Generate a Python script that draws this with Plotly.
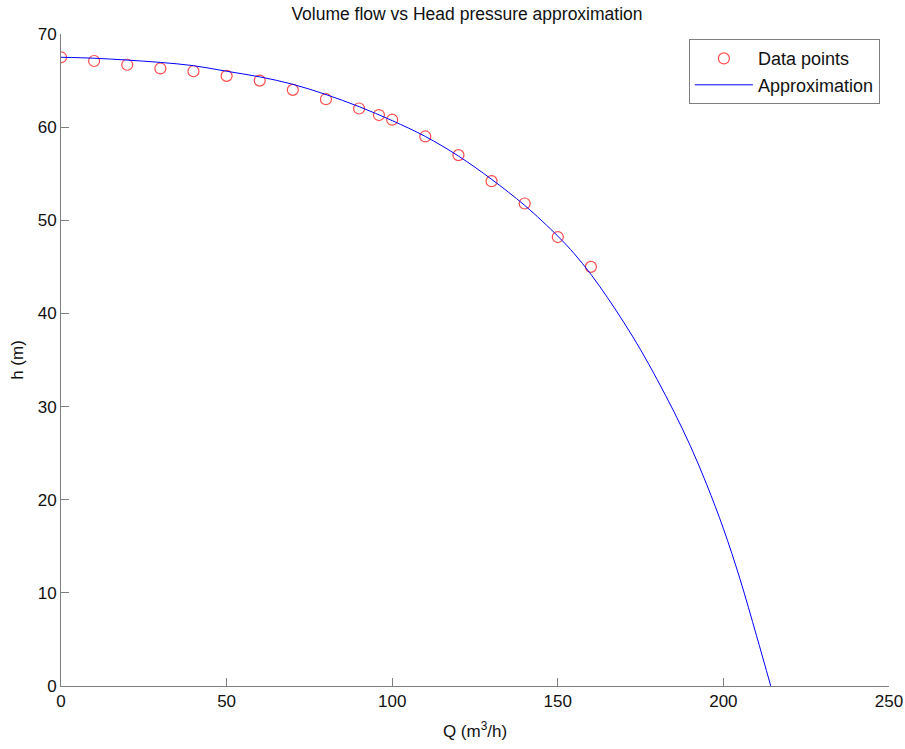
import plotly.graph_objects as go

# Measured data points
q_data = [0, 10, 20, 30, 40, 50, 60, 70, 80, 90, 96, 100, 110, 120, 130, 140, 150, 160]
h_data = [67.5, 67.1, 66.7, 66.3, 66.0, 65.5, 65.0, 64.0, 63.0, 62.0, 61.3, 60.8, 59.0, 57.0, 54.2, 51.8, 48.2, 45.0]

# Approximation curve
q_fit = [0, 10, 20, 30, 40, 50, 60, 70, 80, 90, 100, 110, 120, 130, 140, 150, 155, 160,
         165, 170, 175, 180, 185, 190, 195, 200, 205, 210, 214.3]
h_fit = [67.5, 67.4, 67.2, 66.95, 66.6, 66.0, 65.4, 64.6, 63.5, 62.2, 60.7, 59.0, 56.9, 54.4,
         51.6, 48.3, 46.4, 44.2, 41.7, 39.0, 36.1, 32.9, 29.5, 25.8, 21.6, 16.9, 11.5, 5.4, 0]

x_ticks = [0, 50, 100, 150, 200, 250]
y_ticks = [0, 10, 20, 30, 40, 50, 60, 70]

font = "Liberation Sans, Arial, sans-serif"
txt = "#111111"

fig = go.Figure()
fig.add_trace(go.Scatter(
    x=q_data, y=h_data, mode="markers", name="Data points",
    marker=dict(symbol="circle-open", size=11, color="#ff4d4d", line=dict(width=1.2)),
))
fig.add_trace(go.Scatter(
    x=q_fit, y=h_fit, mode="lines", name="Approximation",
    line=dict(color="#0000ff", width=1), line_shape="spline",
))

axis_common = dict(
    showgrid=False, zeroline=False, showline=True, linecolor="#7f7f7f", linewidth=1,
    ticks="inside", ticklen=8, tickcolor="#7f7f7f", tickwidth=1,
    tickfont=dict(family=font, size=17, color=txt),
    mirror=False, automargin=False,
)

fig.update_layout(
    width=905, height=749,
    margin=dict(l=61, r=16, t=34, b=63),
    paper_bgcolor="white", plot_bgcolor="white",
    title=dict(text="Volume flow vs Head pressure approximation", x=0.516, xanchor="center",
               y=0.989, yanchor="top", font=dict(family=font, size=17.5, color=txt)),
    xaxis=dict(range=[0, 250], tickvals=x_ticks,
               title=dict(text="Q (m<sup>3</sup>/h)", font=dict(family=font, size=17, color=txt), standoff=14),
               **axis_common),
    yaxis=dict(range=[0, 70], tickvals=y_ticks,
               title=dict(text="h (m)", font=dict(family=font, size=17, color=txt), standoff=9),
               **axis_common),
    legend=dict(x=0.989, y=0.992, xanchor="right", yanchor="top",
                bordercolor="#7f7f7f", borderwidth=1, bgcolor="white",
                font=dict(family=font, size=18, color=txt),
                tracegroupgap=0, itemwidth=58),
    showlegend=True,
)

post = ("document.body.style.margin='0';document.body.style.overflow='hidden';")

fig.write_html("out.html", post_script=post, config={"displayModeBar": False})
